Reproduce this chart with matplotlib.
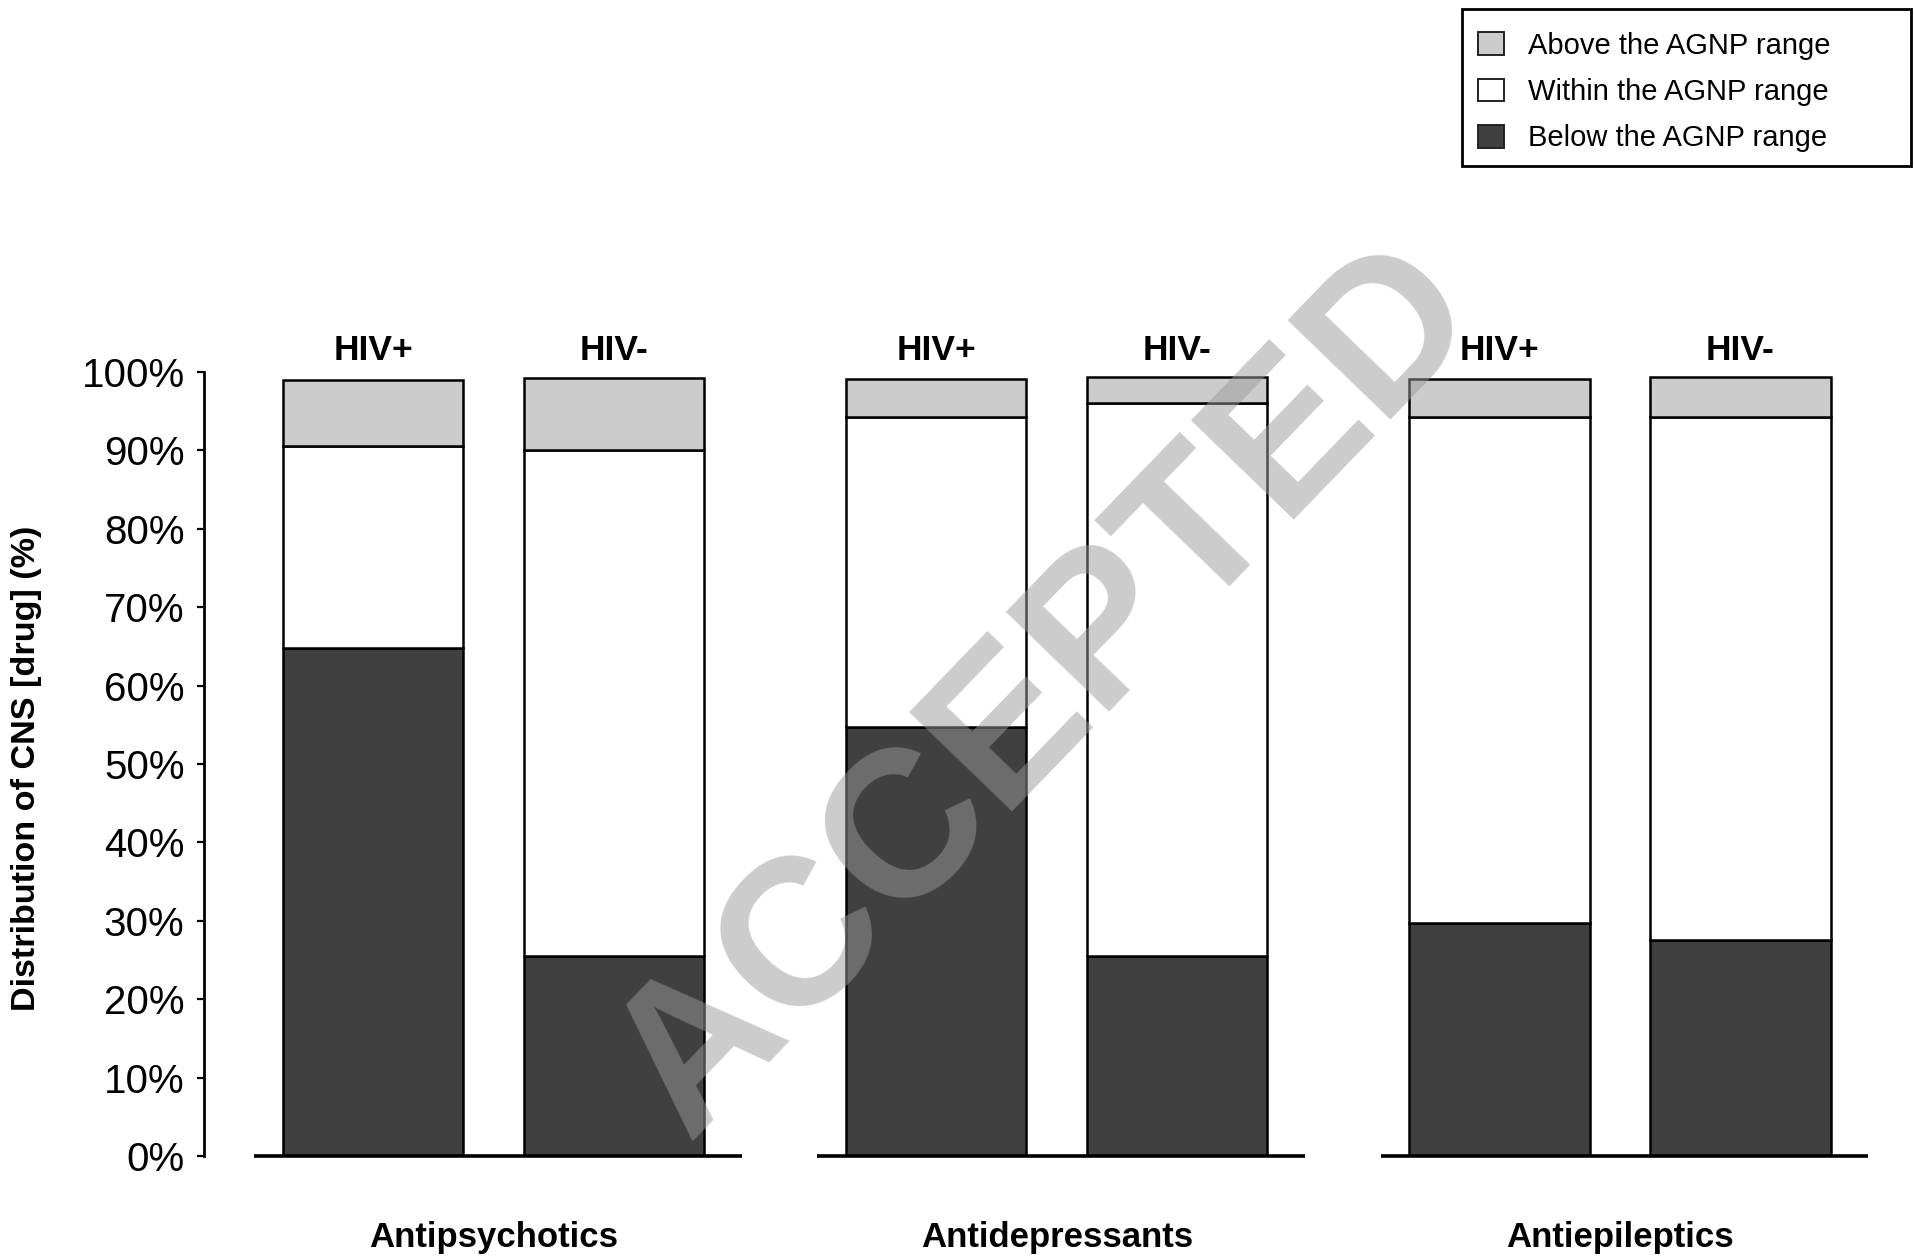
import matplotlib
matplotlib.use("Agg")
import matplotlib.pyplot as plt
from matplotlib.patches import Rectangle, Patch
import numpy as np

plt.rcParams['font.family'] = ['Liberation Sans', 'DejaVu Sans']

categories = ["Antipsychotics", "Antidepressants", "Antiepileptics"]
groups = ["HIV+", "HIV-"]
below = [64.8, 25.5, 54.7, 25.5, 29.7, 27.6]
within = [25.8, 64.5, 39.5, 70.6, 64.5, 66.6]
above = [8.4, 9.2, 4.9, 3.2, 4.9, 5.1]
series_labels = ["Above the AGNP range", "Within the AGNP range", "Below the AGNP range"]
series_colors = ["#cccccc", "#ffffff", "#404040"]
yticks = [0, 10, 20, 30, 40, 50, 60, 70, 80, 90, 100]

W, H = 1914, 1257
fig = plt.figure(figsize=(W / 100, H / 100), dpi=100)
ax = fig.add_axes([204 / W, (H - 1156) / H, (1870 - 204) / W, (1156 - 372) / H])

offset = 0.214
bw = 0.32
xs = []
for g in range(len(categories)):
    xs += [g - offset, g + offset]
xs = np.array(xs)
below_a = np.array(below)
within_a = np.array(within)
above_a = np.array(above)

ec = "black"
lw = 1.8
ax.bar(xs, below_a, bw, color=series_colors[2], edgecolor=ec, linewidth=lw, zorder=2)
ax.bar(xs, within_a, bw, bottom=below_a, color=series_colors[1], edgecolor=ec, linewidth=lw, zorder=2)
ax.bar(xs, above_a, bw, bottom=below_a + within_a, color=series_colors[0], edgecolor=ec, linewidth=lw, zorder=2)

ax.set_xlim(-0.514, 2.444)
ax.set_ylim(0, 100)

for g, cat in enumerate(categories):
    ax.plot([g - 0.425, g + 0.441], [0, 0], color="black", lw=2.6, clip_on=False, zorder=3,
            solid_capstyle="butt")
    ax.text(g, -10.4, cat, ha="center", va="center", fontsize=25, fontweight="bold")
for i, x in enumerate(xs):
    ax.text(x, 102.8, groups[i % 2], ha="center", va="center", fontsize=25.5, fontweight="bold",
            clip_on=False)

for s in ["top", "right", "bottom"]:
    ax.spines[s].set_visible(False)
ax.spines["left"].set_linewidth(2.0)
ax.set_xticks([])
ax.set_yticks(yticks)
ax.set_yticklabels([f"{t}%" for t in yticks], fontsize=29)
ax.tick_params(axis="y", direction="out", length=5, width=1.6, pad=9)

fig.text(27 / W, 1 - 768 / H, "Distribution of CNS [drug] (%)", rotation=90, ha="center",
         va="center", fontsize=24.6, fontweight="bold")

# legend
fig.patches.append(Rectangle((1462 / W, 1 - 166 / H), (1911 - 1462) / W, (166 - 9) / H,
                             transform=fig.transFigure, facecolor="white", edgecolor="black",
                             linewidth=2.0))
handles = [Patch(facecolor=c, edgecolor="#222222", linewidth=1.4) for c in series_colors]
fig.legend(handles, series_labels, loc="upper left", bbox_to_anchor=(1466 / W, 1 - 20 / H),
           frameon=False, fontsize=21, handlelength=0.89, handleheight=0.82,
           handletextpad=0.82, labelspacing=0.63, borderpad=0.4, borderaxespad=0)

# watermark
fig.text(1048 / W, 1 - 692 / H, "ACCEPTED", rotation=46, ha="center", va="center",
         fontsize=150, fontweight="bold", color="#9a9a9a", alpha=0.5, zorder=10,
         rotation_mode="anchor")

fig.savefig("out.png", dpi=100)
